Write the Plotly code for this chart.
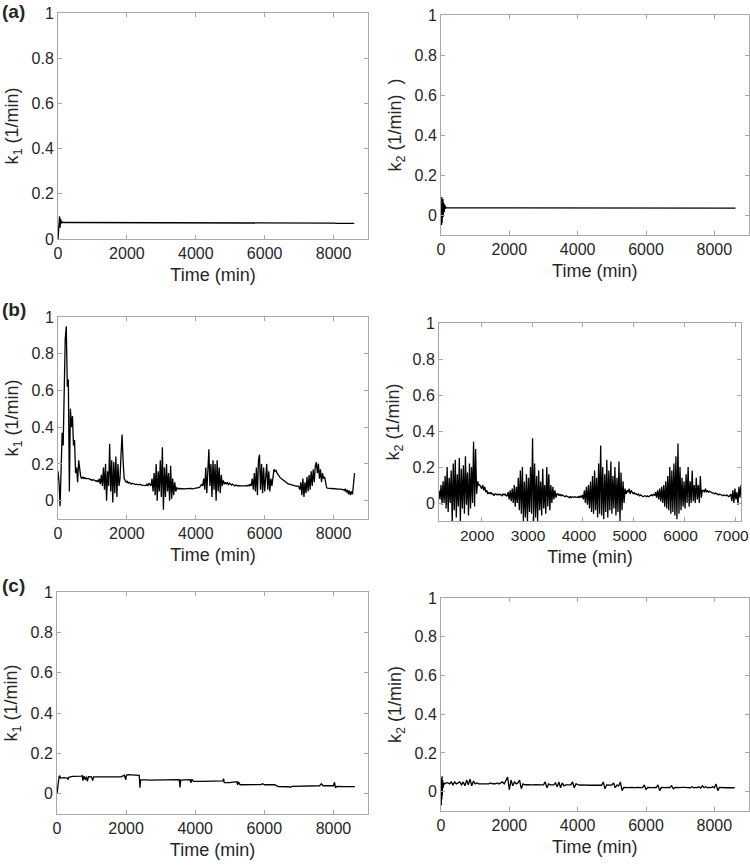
import numpy as np
import plotly.graph_objects as go

# ---------------- DATA ----------------
# (a) left: k1
t_a1 = [0, 15, 30, 45, 60, 75, 90, 105, 120, 150, 200, 400, 800, 1500, 2300, 2400, 3000, 4000,
        5000, 5200, 6000, 7000, 8000, 8100, 8600]
k1_a = [0.0, 0.03, 0.06, 0.10, 0.05, 0.09, 0.068, 0.08, 0.073, 0.074, 0.073, 0.073, 0.073, 0.072,
        0.072, 0.071, 0.071, 0.071, 0.071, 0.070, 0.070, 0.070, 0.070, 0.069, 0.069]

# (a) right: k2
t_a2 = [0, 8, 16, 24, 32, 40, 48, 56, 64, 72, 80, 88, 96, 104, 112, 120, 130, 140, 150, 160,
        200, 1000, 3000, 5000, 7000, 8620]
k2_a = [0.0, 0.08, -0.05, 0.09, -0.04, 0.07, -0.03, 0.08, -0.01, 0.06, 0.0, 0.055, 0.015, 0.05,
        0.025, 0.045, 0.03, 0.04, 0.035, 0.037, 0.036, 0.036, 0.035, 0.035, 0.035, 0.034]

# (b) left: k1, sampled every 30 min, grouped by episode
k1_b_start, k1_b_step = 0, 30
k1_b_seg1 = [0.16, 0.10, -0.03, 0.20, 0.37, 0.30, 0.55, 0.88, 0.95, 0.62, 0.66, 0.05, 0.50, 0.40,
             0.46, 0.30, 0.33, 0.15, 0.18, 0.10, 0.22, 0.16, 0.13, 0.12]
k1_b_seg2 = [0.13, 0.12, 0.125, 0.12, 0.12, 0.118, 0.12, 0.115, 0.115, 0.11, 0.115, 0.11, 0.11,
             0.105, 0.11, 0.10]
k1_b_seg3 = [0.12, 0.09, 0.14, 0.08, 0.18, 0.06, 0.20, 0.0, 0.16, 0.08, 0.31, 0.05, 0.22, -0.01,
             0.21, 0.04, 0.24, 0.02, 0.20, 0.08, 0.12, 0.25, 0.36, 0.22, 0.12]
k1_b_seg4 = [0.11, 0.10, 0.105, 0.095, 0.10, 0.095, 0.09, 0.095, 0.09, 0.09, 0.088, 0.09, 0.087,
             0.088, 0.085, 0.088, 0.085, 0.085, 0.083, 0.085, 0.082, 0.09, 0.08, 0.095, 0.085]
k1_b_seg5 = [0.08, 0.12, 0.05, 0.15, 0.03, 0.20, 0.0, 0.16, 0.05, 0.22, 0.02, 0.29, -0.05, 0.18,
             0.02, 0.20, 0.05, 0.15, 0.0, 0.19, 0.01, 0.12, 0.03, 0.10, 0.05, 0.07]
k1_b_seg6 = [0.065, 0.066, 0.065, 0.064, 0.066, 0.065, 0.065, 0.064, 0.065, 0.066, 0.064, 0.065,
             0.065, 0.066, 0.064, 0.065, 0.066, 0.065, 0.067, 0.066, 0.07, 0.072, 0.08, 0.09]
k1_b_seg7 = [0.08, 0.12, 0.06, 0.18, 0.04, 0.22, 0.28, 0.08, 0.20, 0.02, 0.22, 0.06, 0.20, 0.0,
             0.22, 0.05, 0.18, 0.04, 0.14, 0.08, 0.11, 0.09]
k1_b_seg8 = [0.10, 0.09, 0.10, 0.085, 0.095, 0.09, 0.085, 0.09, 0.085, 0.08, 0.085, 0.08, 0.08,
             0.082, 0.08, 0.078, 0.08, 0.08, 0.078, 0.08, 0.082, 0.08, 0.085, 0.08, 0.09]
k1_b_seg9 = [0.08, 0.12, 0.06, 0.15, 0.05, 0.18, 0.03, 0.22, 0.25, 0.06, 0.20, 0.04, 0.18, 0.05,
             0.15, 0.20, 0.06, 0.16, 0.05, 0.12, 0.08, 0.15, 0.17, 0.16, 0.165, 0.15, 0.14]
k1_b_seg10 = [0.13, 0.125, 0.12, 0.115, 0.11, 0.105, 0.10, 0.10, 0.095, 0.09, 0.09, 0.088, 0.085,
              0.085, 0.083, 0.08, 0.08, 0.078, 0.08, 0.075]
k1_b_seg11 = [0.06, 0.10, 0.03, 0.12, 0.02, 0.10, 0.04, 0.13, 0.05, 0.14, 0.06, 0.16, 0.08, 0.17,
              0.10, 0.19, 0.21, 0.15, 0.20, 0.12, 0.17, 0.10, 0.15, 0.12, 0.13, 0.09, 0.07, 0.068]
k1_b_seg12 = [0.066, 0.065, 0.065, 0.066, 0.065, 0.064, 0.065, 0.064, 0.065, 0.064, 0.063, 0.063,
              0.062, 0.062, 0.06, 0.055, 0.065, 0.045, 0.06, 0.035, 0.055, 0.03, 0.05, 0.035,
              0.10, 0.15]

# (b) right: k2, sampled every 20 min from 1170 min
k2_b_start, k2_b_step = 1170, 20
k2_b_seg1 = [0.07, 0.02, 0.10, -0.01, 0.12, 0.0, 0.15, -0.03, 0.20, -0.05, 0.14, 0.0, 0.18, -0.10,
             0.22, -0.04, 0.24, -0.08, 0.16, -0.02, 0.25, -0.10, 0.19, -0.03, 0.21, -0.06, 0.26,
             -0.01, 0.17, -0.07, 0.22, -0.03, 0.20, 0.0, 0.34, -0.02, 0.30, 0.05, 0.12, 0.10]
k2_b_seg2 = [0.10, 0.09, 0.08, 0.10, 0.07, 0.09, 0.06, 0.07, 0.05, 0.06, 0.05, 0.06, 0.05, 0.05,
             0.04, 0.05, 0.05, 0.045, 0.05, 0.045, 0.05, 0.045, 0.04, 0.05, 0.045, 0.05, 0.04]
k2_b_seg3 = [0.04, 0.06, 0.02, 0.07, 0.01, 0.08, 0.0, 0.10, -0.02, 0.09,
             0.0, 0.14, -0.04, 0.18, -0.06, 0.20, -0.10, 0.12, -0.08, 0.16,
             -0.10, 0.14, -0.05, 0.20, -0.06, 0.36, -0.10, 0.22, -0.08, 0.15,
             -0.10, 0.18, -0.04, 0.12, -0.07, 0.19, -0.03, 0.10, -0.06, 0.20,
             -0.02, 0.16, -0.04, 0.10, 0.0, 0.09, 0.02, 0.07, 0.03, 0.05]
k2_b_seg4 = [0.05, 0.04, 0.05, 0.04, 0.045, 0.04, 0.04, 0.035, 0.04, 0.035, 0.035, 0.03, 0.035,
             0.03, 0.035, 0.03, 0.03, 0.035, 0.03, 0.03, 0.035, 0.03, 0.04, 0.03, 0.045]
k2_b_seg5 = [0.02, 0.07, 0.0, 0.09, -0.01, 0.10, -0.03, 0.12, -0.05, 0.15,
             -0.06, 0.18, -0.04, 0.14, -0.08, 0.22, -0.06, 0.32, -0.07, 0.20,
             -0.09, 0.16, -0.05, 0.24, -0.08, 0.18, -0.04, 0.23, -0.06, 0.15,
             -0.03, 0.20, -0.07, 0.14, -0.05, 0.23, -0.10, 0.17, -0.04, 0.12,
             0.0, 0.08, 0.05]
k2_b_seg6 = [0.07, 0.06, 0.08, 0.05, 0.07, 0.06, 0.05, 0.06, 0.05, 0.05, 0.045, 0.05, 0.04, 0.045,
             0.04, 0.04, 0.035, 0.04, 0.04, 0.035, 0.04, 0.035, 0.04, 0.04, 0.045, 0.04, 0.05]
k2_b_seg7 = [0.04, 0.06, 0.03, 0.07, 0.02, 0.08, 0.01, 0.09, 0.0, 0.10,
             -0.02, 0.12, -0.03, 0.15, -0.04, 0.20, -0.06, 0.18, -0.05, 0.22,
             -0.07, 0.26, -0.09, 0.33, -0.06, 0.20, -0.04, 0.14, -0.02, 0.12,
             -0.03, 0.16, 0.0, 0.20, -0.02, 0.12, 0.0, 0.18, 0.01, 0.10,
             0.0, 0.14, 0.02, 0.10, 0.0, 0.15, 0.03, 0.07]
k2_b_seg8 = [0.07, 0.06, 0.08, 0.06, 0.07, 0.06, 0.065, 0.06, 0.06, 0.055, 0.055, 0.05, 0.055,
             0.05, 0.05, 0.045, 0.05, 0.045, 0.045, 0.04, 0.045, 0.04, 0.04, 0.045, 0.04, 0.035,
             0.04]
k2_b_seg9 = [0.05, 0.01, 0.07, 0.0, 0.08, 0.02, 0.06, -0.01, 0.09, 0.03, 0.10]

# (c) left: k1
t_c1 = [0, 20, 40, 60, 80, 100, 200, 300, 320, 340, 450, 600, 700, 730, 750, 780, 820, 850, 880,
        910, 1000, 1030, 1060, 1300, 1600, 1850, 1900, 1950, 1990, 2010, 2050, 2200, 2300, 2380,
        2400, 2420, 2700, 3000, 3100, 3300, 3540, 3560, 3580, 3850, 3880, 3900, 3950, 4200, 4500,
        4800, 4820, 4840, 5000, 5150, 5200, 5230, 5250, 5300, 5600, 5900, 5950, 6000, 6300, 6350,
        6400, 6700, 6750, 6800, 7200, 7600, 7650, 7700, 8000, 8030, 8060, 8100, 8300, 8620]
k1_c = [0.0, 0.04, 0.08, 0.085, 0.09, 0.078, 0.08, 0.078, 0.07, 0.082, 0.086, 0.086, 0.088, 0.09,
        0.065, 0.088, 0.07, 0.085, 0.062, 0.085, 0.084, 0.066, 0.084, 0.084, 0.085, 0.084, 0.088,
        0.092, 0.07, 0.092, 0.095, 0.095, 0.094, 0.092, 0.03, 0.07, 0.068, 0.068, 0.07, 0.068,
        0.07, 0.032, 0.068, 0.07, 0.055, 0.072, 0.062, 0.062, 0.063, 0.064, 0.075, 0.055, 0.055,
        0.056, 0.06, 0.045, 0.06, 0.045, 0.045, 0.046, 0.05, 0.045, 0.045, 0.04, 0.036, 0.035,
        0.032, 0.037, 0.037, 0.04, 0.05, 0.04, 0.04, 0.058, 0.03, 0.037, 0.036, 0.036]

# (c) right: k2 — start-up transient, then sampled every 50 min from 200 min
t_c2_start = [0, 8, 16, 24, 32, 40, 48, 56, 64, 72, 80, 100, 150]
k2_c_start = [0.0, -0.07, 0.07, -0.04, 0.08, -0.02, 0.06, 0.02, 0.05, 0.03, 0.045, 0.04, 0.045]
k2_c_t0, k2_c_step = 200, 50
k2_c_rest = [0.045, 0.04, 0.05, 0.035, 0.05, 0.04, 0.045, 0.05, 0.035, 0.05,
             0.03, 0.06, 0.035, 0.065, 0.03, 0.055, 0.04, 0.045, 0.04, 0.04,
             0.042, 0.04, 0.042, 0.04, 0.04, 0.045, 0.04, 0.042, 0.04, 0.045,
             0.04, 0.045, 0.05, 0.04, 0.055, 0.075, 0.01, 0.06, 0.03, 0.05,
             0.04, 0.045, 0.06, 0.015, 0.04, 0.035, 0.036, 0.035, 0.036, 0.035,
             0.035, 0.036, 0.035, 0.035, 0.036, 0.035, 0.035, 0.05, 0.02, 0.04,
             0.035, 0.036, 0.035, 0.045, 0.025, 0.05, 0.02, 0.045, 0.03, 0.035,
             0.035, 0.036, 0.035, 0.05, 0.02, 0.04, 0.035, 0.034, 0.035, 0.034,
             0.034, 0.035, 0.034, 0.033, 0.034, 0.033, 0.034, 0.033, 0.034, 0.033,
             0.033, 0.05, 0.015, 0.035, 0.034, 0.033, 0.034, 0.045, 0.02, 0.034,
             0.03, 0.05, 0.005, 0.022, 0.021, 0.022, 0.021, 0.022, 0.021, 0.022,
             0.021, 0.022, 0.021, 0.022, 0.021, 0.035, 0.01, 0.022, 0.021, 0.022,
             0.021, 0.022, 0.021, 0.035, 0.005, 0.022, 0.021, 0.022, 0.021, 0.022,
             0.021, 0.03, 0.015, 0.022, 0.021, 0.022, 0.021, 0.022, 0.02, 0.022,
             0.021, 0.022, 0.02, 0.025, 0.02, 0.022, 0.021, 0.025, 0.018, 0.03,
             0.02, 0.025, 0.02, 0.022, 0.021, 0.025, 0.02, 0.04, 0.005, 0.022,
             0.021, 0.02, 0.021, 0.02, 0.021, 0.02, 0.021, 0.02, 0.021]

y_ticks = [0, 0.2, 0.4, 0.6, 0.8, 1]
y_ticklabels = ["0", "0.2", "0.4", "0.6", "0.8", "1"]
x_ticks_full = [0, 2000, 4000, 6000, 8000]
x_ticks_b2 = [2000, 3000, 4000, 5000, 6000, 7000]
panel_labels = ["(a)", "(b)", "(c)"]

# ---------------- BUILD SERIES ----------------
k1_b = (k1_b_seg1 + k1_b_seg2 + k1_b_seg3 + k1_b_seg4 + k1_b_seg5 + k1_b_seg6 + k1_b_seg7
        + k1_b_seg8 + k1_b_seg9 + k1_b_seg10 + k1_b_seg11 + k1_b_seg12)
t_b1 = k1_b_start + k1_b_step * np.arange(len(k1_b))
k2_b = (k2_b_seg1 + k2_b_seg2 + k2_b_seg3 + k2_b_seg4 + k2_b_seg5 + k2_b_seg6 + k2_b_seg7
        + k2_b_seg8 + k2_b_seg9)
t_b2 = k2_b_start + k2_b_step * np.arange(len(k2_b))
t_c2 = list(t_c2_start) + list(k2_c_t0 + k2_c_step * np.arange(len(k2_c_rest)))
k2_c = k2_c_start + k2_c_rest

W, H = 750, 865
# plot-area boxes in pixels: (left, top, right, bottom)
boxes = [
    (58, 13, 368, 239), (441, 15, 748.5, 235),
    (58, 317, 368, 519), (439, 323, 741, 521),
    (57, 592, 368, 814), (441, 598, 748.5, 811),
]
series = [(t_a1, k1_a), (t_a2, k2_a), (t_b1, k1_b), (t_b2, k2_b), (t_c1, k1_c), (t_c2, k2_c)]
ytitles = ["k<sub>1</sub> (1/min)", "k<sub>2</sub> (1/min)  )",
           "k<sub>1</sub> (1/min)", "k<sub>2</sub> (1/min)",
           "k<sub>1</sub> (1/min)", "k<sub>2</sub> (1/min)"]
yranges = [[0, 1], [-0.1, 1], [-0.1, 1], [-0.1, 1], [-0.1, 1], [-0.1, 1]]
xranges = [[0, 9000], [0, 9000], [0, 9000], [1170, 7110], [0, 9000], [0, 9000]]

FONT = "Liberation Sans, Arial, sans-serif"
AX_COL = "#a8a8a8"
TXT_COL = "#262626"

fig = go.Figure()
layout = dict(
    width=W, height=H, autosize=False,
    margin=dict(l=0, r=0, t=0, b=0, pad=0, autoexpand=False),
    paper_bgcolor="white", plot_bgcolor="white", showlegend=False,
    font=dict(family=FONT, color=TXT_COL, size=16),
)
for i, ((t, v), box) in enumerate(zip(series, boxes)):
    n = "" if i == 0 else str(i + 1)
    fig.add_trace(go.Scatter(x=list(t), y=v, mode="lines",
                             line=dict(color="black", width=1.3),
                             xaxis="x" + n, yaxis="y" + n, hoverinfo="skip"))
    l, tp, r, b = box
    xt = x_ticks_b2 if i == 3 else x_ticks_full
    layout["xaxis" + n] = dict(
        domain=[l / W, r / W], anchor="y" + n, range=xranges[i], automargin=False,
        tickvals=xt, ticktext=[str(v_) for v_ in xt], ticklabeloverflow="allow",
        ticklabelshift=-4 if i == 3 else 0,
        ticks="inside", ticklen=4, tickcolor=AX_COL, showline=True, linecolor=AX_COL,
        linewidth=1, mirror="ticks", showgrid=False, zeroline=False,
        tickfont=dict(size=15.5 if i == 3 else 16, color=TXT_COL, family=FONT),
        title=dict(text="Time (min)", font=dict(size=18, color=TXT_COL, family=FONT), standoff=7),
    )
    layout["yaxis" + n] = dict(
        domain=[1 - b / H, 1 - tp / H], anchor="x" + n, range=yranges[i], automargin=False,
        tickvals=y_ticks, ticktext=y_ticklabels, ticklabeloverflow="allow",
        ticks="inside", ticklen=4, tickcolor=AX_COL, showline=True, linecolor=AX_COL,
        linewidth=1, mirror="ticks", showgrid=False, zeroline=False,
        tickfont=dict(size=16, color=TXT_COL, family=FONT),
        title=dict(text=ytitles[i], font=dict(size=18, color=TXT_COL, family=FONT), standoff=8),
    )

annotations = []
for lab, ypx in zip(panel_labels, [11, 309, 585]):
    annotations.append(dict(text="<b>" + lab + "</b>", x=0, y=1 - ypx / H, xref="paper",
                            yref="paper", xanchor="left", yanchor="middle", showarrow=False,
                            font=dict(size=19, color=TXT_COL, family=FONT)))
layout["annotations"] = annotations
fig.update_layout(**layout)
fig.write_html("out.html", config={"displayModeBar": False},
               post_script="document.body.style.margin='0';document.body.style.padding='0';"
                           "document.documentElement.style.overflow='hidden';")
